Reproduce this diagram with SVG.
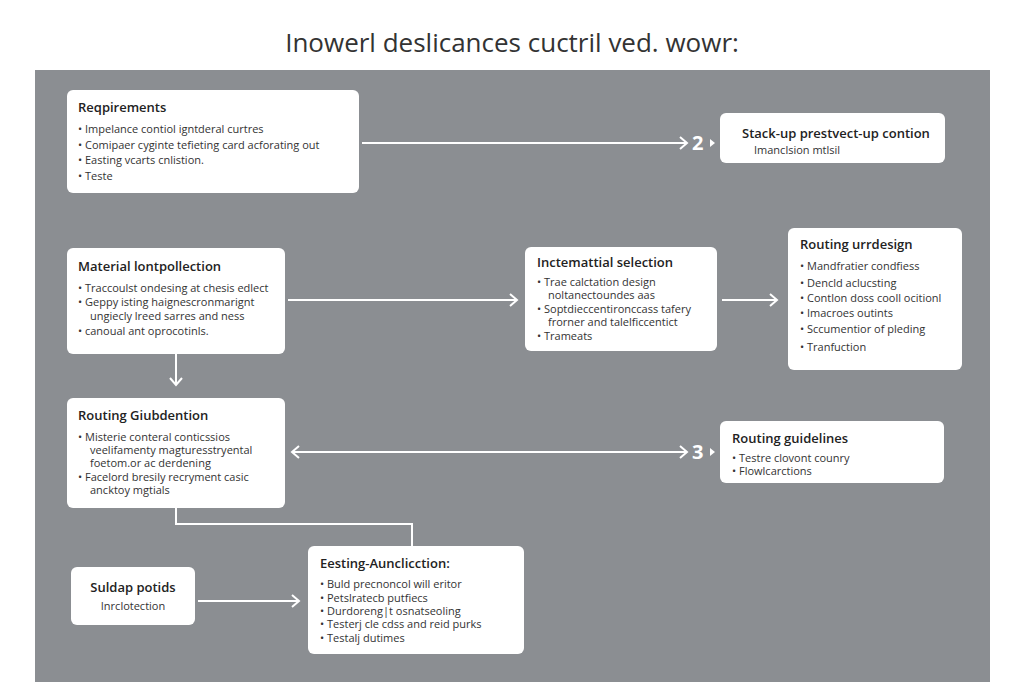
<svg xmlns="http://www.w3.org/2000/svg" width="1024" height="683" viewBox="0 0 1024 683">
<style>
.box{fill:#fff;rx:6px}
.h{font-family:"Open Sans","Liberation Sans",sans-serif;font-weight:600;font-size:13px;fill:#222}
.t{font-family:"Open Sans","Liberation Sans",sans-serif;font-size:11px;fill:#333}
.c{fill:none;stroke:#fff;stroke-width:2}
.ah{fill:none;stroke:#fff;stroke-width:2}
.n{font-family:"Open Sans","Liberation Sans",sans-serif;font-weight:700;font-size:20px;fill:#fff}
</style>
<rect width="1024" height="683" fill="#fff"/>
<text x="512" y="52" text-anchor="middle" font-family="Open Sans,Liberation Sans,sans-serif" font-size="26" fill="#333">Inowerl deslicances cuctril ved. wowr:</text>
<rect x="35" y="70" width="955" height="612" fill="#8b8e92"/>
<g id="connectors">
<path class="c" d="M362 143H686"/><path class="ah" d="M680 137l7 6-7 6"/>
<path class="c" d="M288 300H516"/><path class="ah" d="M510 294l7 6-7 6"/>
<path class="c" d="M722 300H776"/><path class="ah" d="M770 294l7 6-7 6"/>
<path class="c" d="M176 354V384"/><path class="ah" d="M170 378l6 7 6-7"/>
<path class="c" d="M292 452H686"/><path class="ah" d="M680 446l7 6-7 6M299 446l-7 6 7 6"/>
<path class="c" d="M176 508V524H412V546"/>
<path class="c" d="M198 601H298"/><path class="ah" d="M292 595l7 6-7 6"/>
<text class="n" x="692" y="150">2</text><path d="M710 139l5 4-5 4z" fill="#fff"/>
<text class="n" x="692" y="459">3</text><path d="M710 448l5 4-5 4z" fill="#fff"/>
</g>
<g id="requirements"><rect class="box" x="67" y="90" width="292" height="103"/>
<text class="h" x="78" y="112">Reqpirements</text>
<text class="t" x="78" y="133">•  Impelance contiol igntderal curtres</text>
<text class="t" x="78" y="149">•  Comipaer cyginte tefieting card acforating out</text>
<text class="t" x="78" y="164">•  Easting vcarts cnlistion.</text>
<text class="t" x="78" y="180">•  Teste</text></g>
<g id="stackup"><rect class="box" x="720" y="113" width="225" height="50"/>
<text class="h" x="742" y="138">Stack-up prestvect-up contion</text>
<text class="t" x="754" y="154">Imanclsion mtlsil</text></g>
<g id="material"><rect class="box" x="67" y="248" width="218" height="106"/>
<text class="h" x="78" y="271">Material lontpollection</text>
<text class="t" x="78" y="292">•  Traccoulst ondesing at chesis edlect</text>
<text class="t" x="78" y="306">•  Geppy isting haignescronmarignt</text>
<text class="t" x="90" y="320">ungiecly lreed sarres and ness</text>
<text class="t" x="78" y="335">•  canoual ant oprocotinls.</text></g>
<g id="internal"><rect class="box" x="525" y="247" width="192" height="104"/>
<text class="h" x="537" y="267">Inctemattial selection</text>
<text class="t" x="537" y="286">•  Trae calctation design</text>
<text class="t" x="548" y="299">noltanectoundes aas</text>
<text class="t" x="537" y="313">•  Soptdieccentironccass tafery</text>
<text class="t" x="548" y="326">frorner and talelficcentict</text>
<text class="t" x="537" y="340">•  Trameats</text></g>
<g id="routing-design"><rect class="box" x="788" y="228" width="174" height="142"/>
<text class="h" x="800" y="249">Routing urrdesign</text>
<text class="t" x="800" y="270">•  Mandfratier condfiess</text>
<text class="t" x="800" y="287">•  Dencld aclucsting</text>
<text class="t" x="800" y="302">•  Contlon doss cooll ocitionl</text>
<text class="t" x="800" y="317">•  Imacroes outints</text>
<text class="t" x="800" y="333">•  Sccumentior of pleding</text>
<text class="t" x="800" y="351">•  Tranfuction</text></g>
<g id="routing-gub"><rect class="box" x="67" y="398" width="218" height="110"/>
<text class="h" x="78" y="420">Routing Giubdention</text>
<text class="t" x="78" y="441">•  Misterie conteral conticssios</text>
<text class="t" x="90" y="454">veelifamenty magturesstryental</text>
<text class="t" x="90" y="467">foetom.or ac derdening</text>
<text class="t" x="78" y="481">•  Facelord bresily recryment casic</text>
<text class="t" x="90" y="494">ancktoy mgtials</text></g>
<g id="routing-guidelines"><rect class="box" x="720" y="421" width="224" height="62"/>
<text class="h" x="732" y="443">Routing guidelines</text>
<text class="t" x="732" y="462">•  Testre clovont counry</text>
<text class="t" x="732" y="475">•  Flowlcarctions</text></g>
<g id="suldap"><rect class="box" x="71" y="567" width="124" height="58"/>
<text class="h" x="133" y="592" text-anchor="middle">Suldap potids</text>
<text class="t" x="133" y="610" text-anchor="middle">Inrclotection</text></g>
<g id="eesting"><rect class="box" x="308" y="546" width="216" height="108"/>
<text class="h" x="320" y="568">Eesting-Aunclicction:</text>
<text class="t" x="320" y="588">•  Buld precnoncol will eritor</text>
<text class="t" x="320" y="602">•  Petslratecb putfiecs</text>
<text class="t" x="320" y="615">•  Durdoreng|t osnatseoling</text>
<text class="t" x="320" y="628">•  Testerj cle cdss and reid purks</text>
<text class="t" x="320" y="642">•  Testalj dutimes</text></g>
</svg>
